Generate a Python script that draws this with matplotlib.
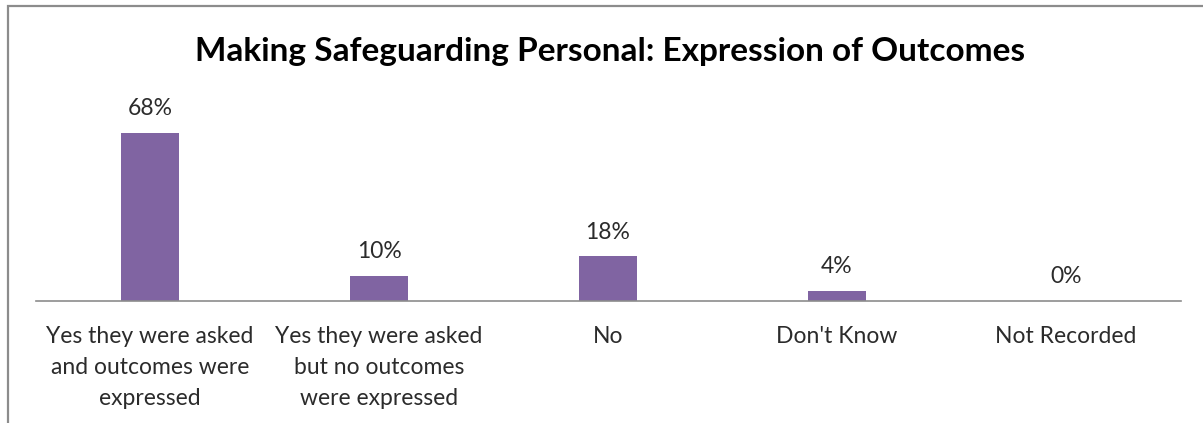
import matplotlib
matplotlib.use("Agg")
import matplotlib.pyplot as plt
from matplotlib.patches import Rectangle

W, H = 1203, 423

categories = [
    "Yes they were asked\nand outcomes were\nexpressed",
    "Yes they were asked\nbut no outcomes\nwere expressed",
    "No",
    "Don't Know",
    "Not Recorded",
]
values = [68, 10, 18, 4, 0]

BAR_COLOR = "#8064A2"
TEXT_COLOR = "#2b2b2b"

plt.rcParams["font.family"] = ["Lato", "DejaVu Sans"]

fig = plt.figure(figsize=(W / 100, H / 100), dpi=100)
fig.patch.set_facecolor("white")

# outer chart frame (only top and left edges are inside the crop)
fig.add_artist(Rectangle((8 / W, -0.1), 1.2, 1.1 - 6 / H,
                         transform=fig.transFigure, fill=False,
                         ec="#8c8c8c", lw=1.6))

ax_left, ax_right = 35.5 / W, 1180.5 / W
ax_bottom, ax_top = 1 - 301 / H, 1 - 103 / H
ax = fig.add_axes([ax_left, ax_bottom, ax_right - ax_left, ax_top - ax_bottom])

x = list(range(len(categories)))
ax.bar(x, values, width=0.255, color=BAR_COLOR, zorder=2)

for xi, v in zip(x, values):
    ax.annotate(f"{v}%", (xi, v), xytext=(0, 10), textcoords="offset points",
                ha="center", va="bottom", fontsize=16.5, color=TEXT_COLOR)

ax.set_xlim(-0.5, len(categories) - 0.5)
ax.set_ylim(0, 80)
ax.set_xticks(x)
ax.set_xticklabels(categories, fontsize=16.5, color=TEXT_COLOR, linespacing=1.58)
ax.tick_params(axis="x", length=0, pad=18)
ax.set_yticks([])

for side in ["top", "right", "left"]:
    ax.spines[side].set_visible(False)
ax.spines["bottom"].set_color("#8c8c8c")
ax.spines["bottom"].set_linewidth(1.2)

fig.text(610 / W, 1 - 52 / H, "Making Safeguarding Personal: Expression of Outcomes",
         ha="center", va="center", fontsize=24, fontweight="bold", color="black")

fig.savefig("out.png", dpi=100)
